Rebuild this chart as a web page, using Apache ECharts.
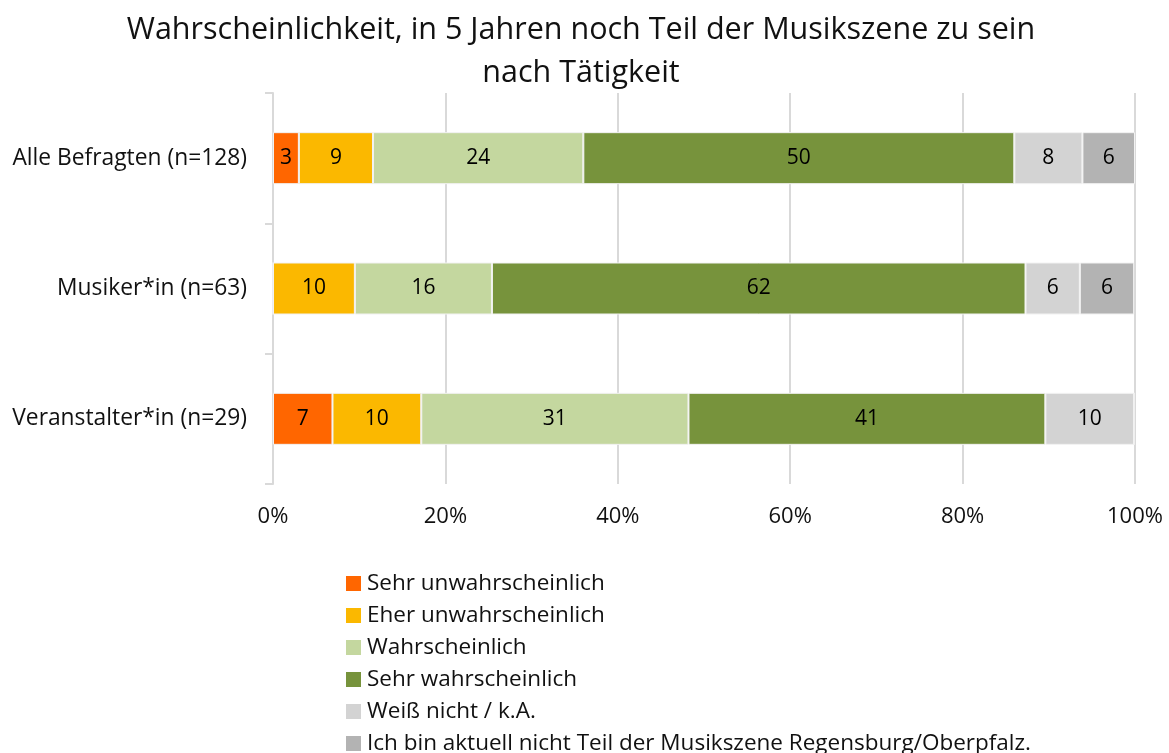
<!DOCTYPE html>
<html>
<head>
<meta charset="utf-8">
<script src="https://cdn.jsdelivr.net/npm/echarts@6/dist/echarts.min.js"></script>
<style>
  html, body { margin: 0; padding: 0; background: #fff; }
  #chart { width: 1169px; height: 753px; }
</style>
</head>
<body>
<div id="chart"></div>
<script>
  var categories = ["Alle Befragten (n=128)", "Musiker*in (n=63)", "Veranstalter*in (n=29)"];
  var seriesNames = [
    "Sehr unwahrscheinlich",
    "Eher unwahrscheinlich",
    "Wahrscheinlich",
    "Sehr wahrscheinlich",
    "Weiß nicht / k.A.",
    "Ich bin aktuell nicht Teil der Musikszene Regensburg/Oberpfalz."
  ];
  var sehrUnwahrscheinlich = [3.0, 0, 6.9];
  var eherUnwahrscheinlich = [8.6, 9.5, 10.3];
  var wahrscheinlich = [24.4, 15.9, 31.0];
  var sehrWahrscheinlich = [50.0, 61.9, 41.4];
  var weissNicht = [7.9, 6.3, 10.3];
  var nichtTeil = [6.1, 6.3, 0];
  var colors = ["#FF6600", "#FBB800", "#C4D79F", "#77933C", "#D3D3D3", "#B3B3B3"];

  var fontFam = "'Open Sans', sans-serif";
  var allData = [sehrUnwahrscheinlich, eherUnwahrscheinlich, wahrscheinlich, sehrWahrscheinlich, weissNicht, nichtTeil];

  var series = allData.map(function (d, i) {
    return {
      name: seriesNames[i],
      type: "bar",
      stack: "total",
      barWidth: 52,
      data: d,
      itemStyle: { color: colors[i], borderColor: "#f2f2f2", borderWidth: 1 },
      label: {
        show: true,
        position: "inside",
        color: "#000",
        fontSize: 21,
        fontFamily: fontFam,
        formatter: function (p) { return p.value > 0 ? Math.round(p.value) : ""; }
      }
    };
  });

  var myChart = echarts.init(document.getElementById("chart"));
  myChart.setOption({
    animation: false,
    color: colors,
    title: {
      text: "Wahrscheinlichkeit, in 5 Jahren noch Teil der Musikszene zu sein\nnach Tätigkeit",
      left: 576,
      textAlign: "center",
      top: 4,
      textStyle: { fontSize: 30.5, fontWeight: "normal", color: "#111", fontFamily: fontFam, lineHeight: 43 }
    },
    legend: {
      orient: "vertical",
      left: 346,
      top: 572,
      height: 200,
      padding: 0,
      itemWidth: 15,
      itemHeight: 15,
      itemGap: 9,
      icon: "rect",
      itemStyle: { borderWidth: 0 },
      textStyle: { fontSize: 22.5, color: "#111", fontFamily: fontFam, padding: [0, 0, 0, 1] },
      data: seriesNames
    },
    grid: { left: 273, right: 34, top: 93, height: 391 },
    xAxis: {
      type: "value",
      min: 0,
      max: 100,
      interval: 20,
      axisLine: { show: false },
      axisTick: { show: false },
      splitLine: { lineStyle: { color: "#D9D9D9", width: 2 } },
      axisLabel: {
        formatter: "{value}%",
        fontSize: 22,
        color: "#111",
        fontFamily: fontFam,
        margin: 22
      }
    },
    yAxis: {
      type: "category",
      inverse: true,
      data: categories,
      axisLine: { lineStyle: { color: "#D9D9D9", width: 2 } },
      axisTick: { show: true, length: 8, lineStyle: { color: "#D9D9D9", width: 2 } },
      axisLabel: { fontSize: 22.8, color: "#111", fontFamily: fontFam, margin: 26 }
    },
    series: series
  });
</script>
</body>
</html>
